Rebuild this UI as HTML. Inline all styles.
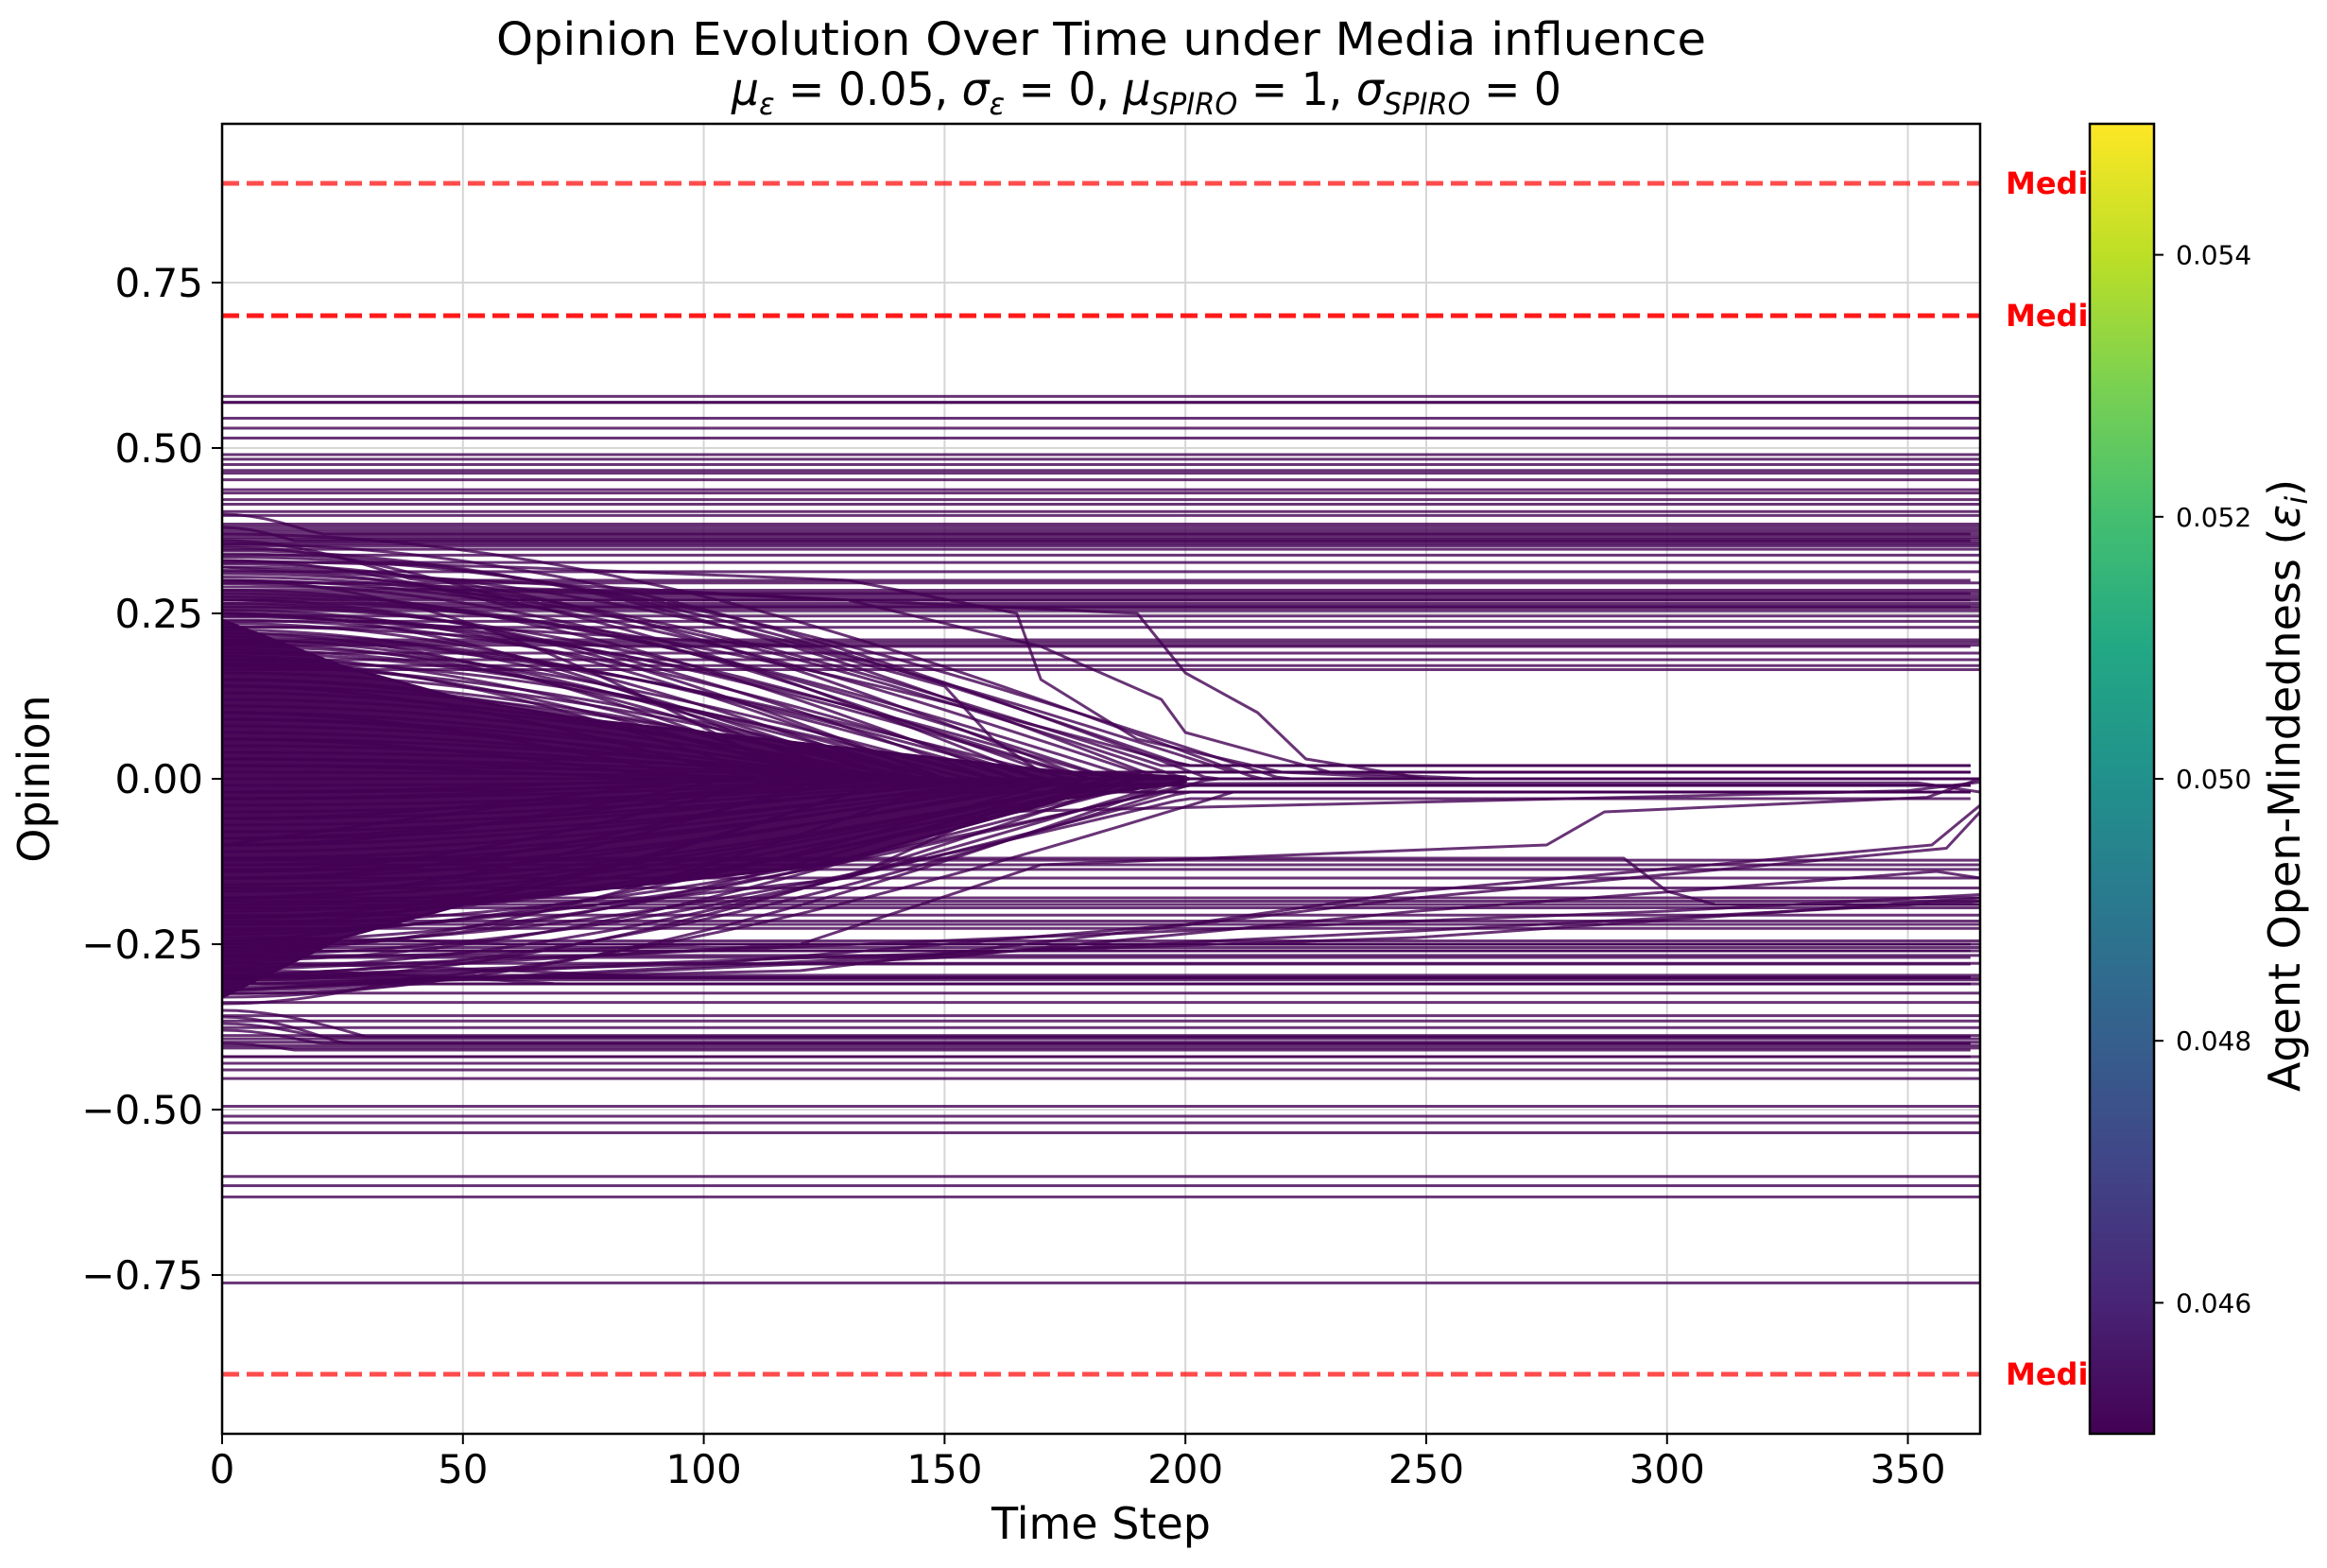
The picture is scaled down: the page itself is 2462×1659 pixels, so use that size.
<!DOCTYPE html>
<html><head><meta charset="utf-8">
<style>
html,body{margin:0;padding:0;background:#fff;}
svg{display:block;font-family:"DejaVu Sans","Liberation Sans",sans-serif;}
</style></head>
<body>
<svg id="chart" xmlns="http://www.w3.org/2000/svg" width="2462" height="1659" viewBox="0 0 2462 1659">
  <rect x="0" y="0" width="2462" height="1659" fill="#fff"/>
  <defs>
    <clipPath id="plotClip"><rect x="235" y="131" width="1860" height="1386"/></clipPath>
    <clipPath id="textClip"><rect x="2095" y="0" width="116" height="1659"/></clipPath>
    <linearGradient id="viridis" x1="0" y1="1" x2="0" y2="0">
      <stop offset="0" stop-color="#440154"/><stop offset="0.1" stop-color="#482475"/>
      <stop offset="0.2" stop-color="#414487"/><stop offset="0.3" stop-color="#355f8d"/>
      <stop offset="0.4" stop-color="#2a788e"/><stop offset="0.5" stop-color="#21918c"/>
      <stop offset="0.6" stop-color="#22a884"/><stop offset="0.7" stop-color="#44bf70"/>
      <stop offset="0.8" stop-color="#7ad151"/><stop offset="0.9" stop-color="#bddf26"/>
      <stop offset="1" stop-color="#fde725"/>
    </linearGradient>
  </defs>
  <g id="grid"></g>
  <g id="series" clip-path="url(#plotClip)"></g>
  <g id="media"></g>
  <g id="axes"></g>
  <text x="1165" y="58" font-size="48" text-anchor="middle" textLength="1280" lengthAdjust="spacingAndGlyphs">Opinion Evolution Over Time under Media influence</text>
  <text x="1213" y="111" font-size="48" text-anchor="middle" textLength="878" lengthAdjust="spacingAndGlyphs"><tspan font-style="italic">μ</tspan><tspan font-style="italic" font-size="32" dy="10">ε</tspan><tspan dy="-10"> = 0.05, </tspan><tspan font-style="italic">σ</tspan><tspan font-style="italic" font-size="32" dy="10">ε</tspan><tspan dy="-10"> = 0, </tspan><tspan font-style="italic">μ</tspan><tspan font-style="italic" font-size="32" dy="10">SPIRO</tspan><tspan dy="-10"> = 1, </tspan><tspan font-style="italic">σ</tspan><tspan font-style="italic" font-size="32" dy="10">SPIRO</tspan><tspan dy="-10"> = 0</tspan></text>
  <text x="1165" y="1628" font-size="46" text-anchor="middle">Time Step</text>
  <text transform="translate(52,824) rotate(-90)" font-size="46" text-anchor="middle">Opinion</text>
  <g id="colorbar"></g>
  <text transform="translate(2433,831) rotate(-90)" font-size="46" text-anchor="middle">Agent Open-Mindedness (<tspan font-style="italic">ε</tspan><tspan font-style="italic" font-size="32" dy="8">i</tspan><tspan dy="-8">)</tspan></text>
</svg>
<script>
// ---- data ----
const xTicks = [0, 50, 100, 150, 200, 250, 300, 350];
const yTicks = [-0.75, -0.5, -0.25, 0, 0.25, 0.5, 0.75];
const yTickLabels = ["\u22120.75", "\u22120.50", "\u22120.25", "0.00", "0.25", "0.50", "0.75"];
const cbTicks = [0.046, 0.048, 0.050, 0.052, 0.054];
const cbTickLabels = ["0.046", "0.048", "0.050", "0.052", "0.054"];
const mediaValues = [0.9, 0.7, -0.9];
const mediaAlpha = [0.7, 0.9, 0.7];
// agents whose opinion stays fixed
const stationaryOpinions = [0.578,0.569,0.569,0.545,0.53,0.515,0.49,0.483,0.475,0.466,0.462,0.452,0.437,0.432,0.422,0.415,0.404,0.398,
 0.385,0.381,0.377,0.373,0.369,0.365,0.362,0.358,0.355,0.352,0.347,0.338,0.327,0.313,0.296,0.285,0.281,0.277,0.273,0.27,0.265,0.261,0.258,0.254,
 0.246,0.238,0.229,0.21,0.206,0.202,0.19,0.18,0.171,0.165,
 -0.123,-0.13,-0.137,-0.15,-0.165,-0.18,-0.185,-0.19,-0.195,-0.206,-0.215,-0.22,-0.226,-0.245,-0.25,-0.255,-0.26,-0.267,-0.279,
 -0.297,-0.301,-0.304,-0.31,-0.324,-0.338,-0.358,-0.366,-0.376,-0.388,-0.393,-0.398,-0.403,-0.407,-0.42,-0.43,-0.44,-0.453,
 -0.495,-0.51,-0.52,-0.535,-0.601,-0.615,-0.632,-0.762];
// dense converging core: time, upper and lower opinion bounds
const coreTimes = [0, 25, 50, 75, 100, 125, 150, 175, 200];
const coreUpper = [0.24, 0.17, 0.12, 0.09, 0.07, 0.05, 0.03, 0.01, 0.003];
const coreLower = [-0.33, -0.24, -0.19, -0.17, -0.15, -0.13, -0.08, -0.03, -0.005];
// converging agents: start opinion, end opinion, settle time
const blobStart = [0.40,0.38,0.36,0.35,0.34,0.33,0.32,0.31,0.30,0.29,0.28,0.27,0.26,0.25,0.24,0.23,0.22,0.21,0.20,0.19,0.18,0.17,0.16,0.15,0.14,0.13,0.12,0.11,0.10,0.09,0.08,0.07,0.06,0.05,0.04,0.03,0.02,0.01,0.0,-0.01,-0.02,-0.03,-0.04,-0.05,-0.06,-0.07,-0.08,-0.09,-0.10,-0.11,-0.12,-0.13,-0.14,-0.15,-0.16,-0.17,-0.18,-0.19,-0.20,-0.21,-0.22,-0.23,-0.24,-0.25,-0.26,-0.27,-0.28,-0.29,-0.30,-0.31,-0.32,-0.33,-0.34,-0.35,-0.36,-0.37,-0.38,-0.40,-0.42,
 0.30,0.25,0.22,0.18,0.14,0.10,0.06,0.02,-0.02,-0.06,-0.10,-0.14,-0.18,-0.22,-0.26,-0.30,0.27,0.21,0.15,0.09,0.03,-0.03,-0.09,-0.15,-0.21,-0.27,
 0.37,0.355,0.345,0.335,0.325,0.315,0.305,0.295,0.285,0.275,0.265,0.255,0.245,0.235,0.225,0.215,0.205,0.195,0.185,0.175,
 -0.235,-0.245,-0.255,-0.265,-0.275,-0.285,-0.295,-0.305,-0.315,-0.325];
const blobEnd = [0.37,0.36,0.30,0.27,0.02,0.26,0.01,0.02,0.01,0.28,0.0,0.02,0.0,0.01,0.0,0.2,0.0,0.01,0.0,0.0,0.0,0.0,0.0,0.0,0.0,0.0,0.0,0.0,0.0,0.0,0.0,0.0,0.0,0.0,0.0,0.0,0.0,0.0,0.0,0.0,0.0,0.0,0.0,0.0,0.0,0.0,0.0,0.0,0.0,0.0,0.0,0.0,0.0,0.0,-0.01,0.0,-0.01,0.0,-0.02,0.0,-0.02,-0.01,-0.25,-0.03,-0.26,-0.27,-0.3,-0.31,-0.3,-0.3,-0.3,-0.31,-0.3,-0.39,-0.4,-0.39,-0.4,-0.41,-0.42,
 0.0,0.0,0.0,0.0,0.0,0.0,0.0,0.0,0.0,0.0,0.0,0.0,0.0,-0.01,-0.02,-0.28,0.0,0.0,0.0,0.0,0.0,0.0,0.0,0.0,0.0,-0.25,
 0.0,0.0,0.0,0.0,0.0,0.0,0.0,0.0,0.0,0.0,0.0,0.0,0.0,0.0,0.0,0.0,0.0,0.0,0.0,0.0,
 0.0,-0.01,0.0,-0.02,0.0,-0.01,0.0,0.0,-0.02,0.0];
const blobSettle = [20,15,40,60,200,60,210,195,190,80,185,200,180,175,170,80,165,170,160,155,160,150,150,145,150,140,145,140,135,140,135,130,140,135,150,145,150,140,150,145,155,150,160,155,160,165,160,170,165,170,175,170,180,175,180,185,180,190,185,190,195,200,60,200,70,80,90,70,60,50,50,40,40,30,25,20,20,15,10,
 120,130,125,115,110,100,95,90,95,100,105,115,125,135,145,90,150,140,130,120,110,110,120,130,140,100,
 215,205,195,220,180,170,200,175,165,190,160,150,185,145,140,170,135,150,130,125,
 175,190,180,200,185,195,205,190,210,200];
// slow agents: keypoint times and opinions
const slowTimes = [
 [0,60,130,165,170,190,220,250,365],
 [0,100,190,200,215,225,250,365],
 [0,130,170,195,200,230,260,365],
 [0,120,150,160,170,200,365],
 [0,120,170,275,287,354,365],
 [0,130,160,250,350,365],
 [0,100,200,248,355,365],
 [0,120,248,358,365],
 [0,150,248,356,365],
 [0,291,300,310,365],
 [0,248,365],
 [0,248,365],
 [0,248,300,365],
 [0,60,120,248,352,365]
];
const slowValues = [
 [0.33,0.32,0.30,0.25,0.15,0.06,0.01,0.0,0.0],
 [0.30,0.28,0.25,0.16,0.10,0.03,0.0,0.0],
 [0.32,0.27,0.20,0.12,0.07,0.01,0.0,0.0],
 [0.25,0.20,0.14,0.06,0.01,0.0,0.0],
 [-0.30,-0.25,-0.13,-0.10,-0.05,-0.028,0.0],
 [-0.25,-0.15,-0.05,-0.035,-0.018,-0.005],
 [-0.30,-0.28,-0.22,-0.17,-0.10,-0.04],
 [-0.31,-0.29,-0.18,-0.105,-0.05],
 [-0.32,-0.27,-0.20,-0.14,-0.15],
 [-0.12,-0.12,-0.17,-0.19,-0.19],
 [-0.30,-0.24,-0.18],
 [-0.32,-0.23,-0.185],
 [-0.29,-0.215,-0.20,-0.175],
 [-0.10,-0.04,-0.01,-0.006,-0.006,-0.02]
];
// ---- scales ----
const X0=235, X1=2095, Y0=131, Y1=1517, XMIN=0, XMAX=365, YMIN=-0.99, YMAX=0.99;
const xs = v => X0 + (v-XMIN)/(XMAX-XMIN)*(X1-X0);
const ys = v => Y1 - (v-YMIN)/(YMAX-YMIN)*(Y1-Y0);
const CB_X0=2211, CB_X1=2279, CB_MIN=0.045, CB_MAX=0.055;
const cbs = v => Y1 - (v-CB_MIN)/(CB_MAX-CB_MIN)*(Y1-Y0);
const NS='http://www.w3.org/2000/svg';
function mk(tag, attrs, parent){const e=document.createElementNS(NS,tag);for(const k in attrs)e.setAttribute(k,attrs[k]);parent.appendChild(e);return e;}
const grid=document.getElementById('grid'), series=document.getElementById('series'), media=document.getElementById('media'), axes=document.getElementById('axes'), cb=document.getElementById('colorbar');
// grid
xTicks.forEach(t=>{const l=mk('line',{x1:xs(t),x2:xs(t),y1:Y0,y2:Y1,stroke:'#d6d6d6','stroke-width':2},grid);

});
yTicks.forEach(t=>{const l=mk('line',{x1:X0,x2:X1,y1:ys(t),y2:ys(t),stroke:'#d6d6d6','stroke-width':2},grid);

});
// series
const LC='#440154';
stationaryOpinions.forEach(v=>{const l=mk('line',{x1:xs(0),x2:xs(XMAX),y1:ys(v),y2:ys(v),stroke:LC,'stroke-opacity':0.8,'stroke-width':3},series);

});
// dense core
{let d=''; coreTimes.forEach((t,i)=>{d+=(i?'L':'M')+xs(t).toFixed(1)+' '+ys(coreUpper[i]).toFixed(1);});
 for(let i=coreTimes.length-1;i>=0;i--){d+='L'+xs(coreTimes[i]).toFixed(1)+' '+ys(coreLower[i]).toFixed(1);} d+='Z';
 const p=mk('path',{d:d,fill:LC,'fill-opacity':0.97,stroke:LC,'stroke-width':3,'stroke-linejoin':'round'},series);
 
 }
blobStart.forEach((s,i)=>{const e=blobEnd[i], tc=blobSettle[i]; let d='';
 for(let t=0;t<=XMAX;t+=3){const f=t>=tc?0:Math.cos(Math.PI/2*t/tc); const v=e+(s-e)*f; d+=(t?'L':'M')+xs(t).toFixed(1)+' '+ys(v).toFixed(1);}
 const p=mk('path',{d:d,fill:'none',stroke:LC,'stroke-opacity':0.8,'stroke-width':3},series);
 
 });
slowTimes.forEach((ts,i)=>{let d=''; ts.forEach((t,j)=>{d+=(j?'L':'M')+xs(t).toFixed(1)+' '+ys(slowValues[i][j]).toFixed(1);});
 const p=mk('path',{d:d,fill:'none',stroke:LC,'stroke-opacity':0.8,'stroke-width':3,'stroke-linejoin':'round'},series);
 
 });
// media lines
mediaValues.forEach((v,i)=>{const l=mk('line',{x1:X0,x2:X1,y1:ys(v),y2:ys(v),stroke:'#ff0000','stroke-opacity':mediaAlpha[i],'stroke-width':5,'stroke-dasharray':'18 8'},media);
 
 
 const tx=mk('text',{x:2122,y:ys(v)+11,'font-size':32,'font-weight':'bold',fill:'#ff0000','clip-path':'url(#textClip)'},media);
 tx.textContent='Media';
 
 });
// axes
const fr=mk('rect',{x:X0,y:Y0,width:X1-X0,height:Y1-Y0,fill:'none',stroke:'#000','stroke-width':2.5},axes);


xTicks.forEach(t=>{mk('line',{x1:xs(t),x2:xs(t),y1:Y1,y2:Y1+11,stroke:'#000','stroke-width':2},axes);
 const tx=mk('text',{x:xs(t),y:1569,'font-size':42,'text-anchor':'middle'},axes); tx.textContent=String(t);
 
 });
yTicks.forEach((t,i)=>{mk('line',{x1:X0-11,x2:X0,y1:ys(t),y2:ys(t),stroke:'#000','stroke-width':2},axes);
 const tx=mk('text',{x:X0-20,y:ys(t)+15,'font-size':42,'text-anchor':'end'},axes); tx.textContent=yTickLabels[i];
 
 });
// colorbar
const cr=mk('rect',{x:CB_X0,y:Y0,width:CB_X1-CB_X0,height:Y1-Y0,fill:'url(#viridis)',stroke:'#000','stroke-width':2.5},cb);


cbTicks.forEach((t,i)=>{mk('line',{x1:CB_X1,x2:CB_X1+10,y1:cbs(t),y2:cbs(t),stroke:'#000','stroke-width':2},cb);
 const tx=mk('text',{x:2302,y:cbs(t)+10,'font-size':28},cb); tx.textContent=cbTickLabels[i];
 
 });
</script>
</body></html>
